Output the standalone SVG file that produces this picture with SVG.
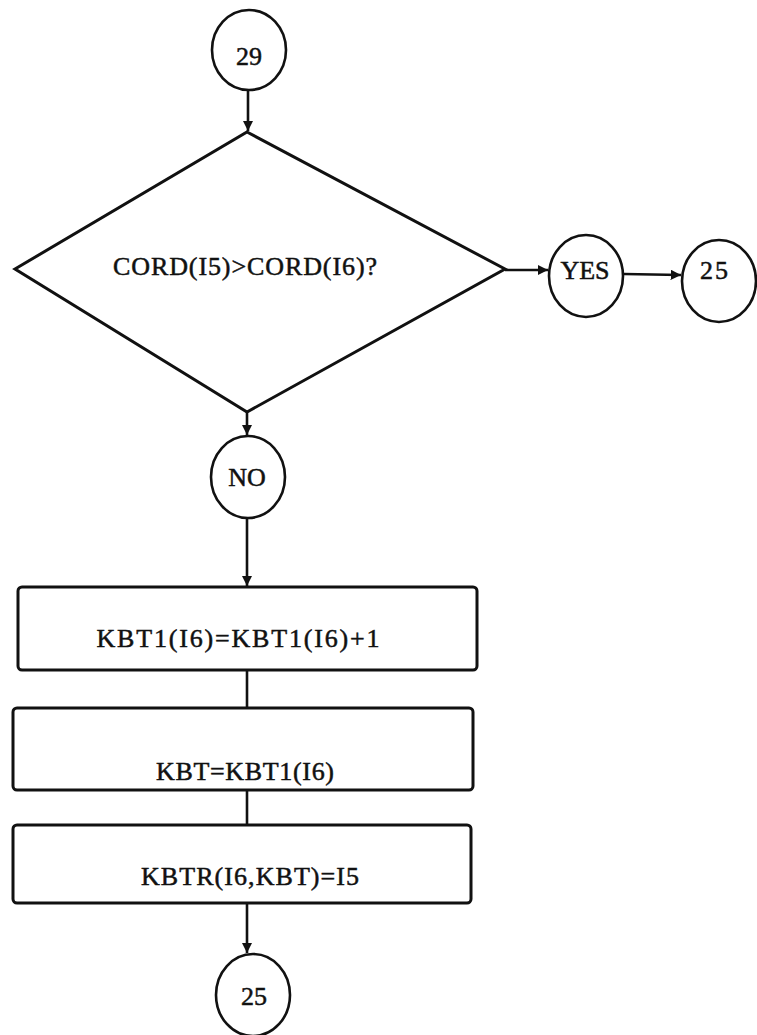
<svg xmlns="http://www.w3.org/2000/svg" width="757" height="1035" viewBox="0 0 757 1035">
<style>
.shape{fill:none;stroke:#111;stroke-width:3}
.circ{fill:none;stroke:#111;stroke-width:2.6}
.lbl{font-family:"Liberation Serif","Times New Roman",serif;font-size:26px;fill:#111;stroke:#111;stroke-width:0.5;text-anchor:middle}
.conn{fill:none;stroke:#111;stroke-width:2.6}
</style>
<defs>
<marker id="arr" viewBox="0 0 10 10" refX="10" refY="5" markerWidth="4" markerHeight="4" orient="auto" markerUnits="strokeWidth">
<path d="M0,0 L10,5 L0,10 z" fill="#111"/>
</marker>
</defs>
<rect width="757" height="1035" fill="#fff"/>
<g id="connectors">
<line class="conn" x1="248" y1="90" x2="248" y2="131" marker-end="url(#arr)"/>
<line class="conn" x1="505" y1="270" x2="548" y2="270" marker-end="url(#arr)"/>
<line class="conn" x1="624" y1="274" x2="681" y2="275" marker-end="url(#arr)"/>
<line class="conn" x1="247" y1="412" x2="247" y2="435" marker-end="url(#arr)"/>
<line class="conn" x1="247" y1="518" x2="247" y2="586" marker-end="url(#arr)"/>
<line class="conn" x1="247" y1="670" x2="247" y2="708"/>
<line class="conn" x1="247" y1="790" x2="247" y2="825"/>
<line class="conn" x1="247" y1="903" x2="247" y2="953" marker-end="url(#arr)"/>
</g>
<g id="n29">
<ellipse class="circ" cx="249" cy="50" rx="37" ry="40"/>
<text class="lbl" x="249" y="65">29</text>
</g>
<g id="decision">
<polygon class="shape" points="247,132 505,269 247,412 15,269" stroke-width="3.4"/>
<text class="lbl" x="245" y="275" textLength="264" lengthAdjust="spacing">CORD(I5)&gt;CORD(I6)?</text>
</g>
<g id="yes">
<ellipse class="circ" cx="586" cy="276" rx="37" ry="41"/>
<text class="lbl" x="585" y="279">YES</text>
</g>
<g id="n25right">
<ellipse class="circ" cx="719" cy="281" rx="37" ry="41"/>
<text class="lbl" x="715" y="279" letter-spacing="2">25</text>
</g>
<g id="no">
<ellipse class="circ" cx="248" cy="477" rx="37" ry="41"/>
<text class="lbl" x="247" y="486">NO</text>
</g>
<g id="box1">
<rect class="shape" x="18" y="587" width="459" height="83" rx="4"/>
<text class="lbl" x="238" y="647" textLength="283" lengthAdjust="spacing">KBT1(I6)=KBT1(I6)+1</text>
</g>
<g id="box2">
<rect class="shape" x="13" y="708" width="460" height="82" rx="4"/>
<text class="lbl" x="245" y="780" textLength="178" lengthAdjust="spacing">KBT=KBT1(I6)</text>
</g>
<g id="box3">
<rect class="shape" x="13" y="825" width="458" height="78" rx="4"/>
<text class="lbl" x="250" y="885" textLength="218" lengthAdjust="spacing">KBTR(I6,KBT)=I5</text>
</g>
<g id="n25bottom">
<ellipse class="circ" cx="253" cy="995" rx="37" ry="41"/>
<text class="lbl" x="254" y="1005">25</text>
</g>
</svg>
